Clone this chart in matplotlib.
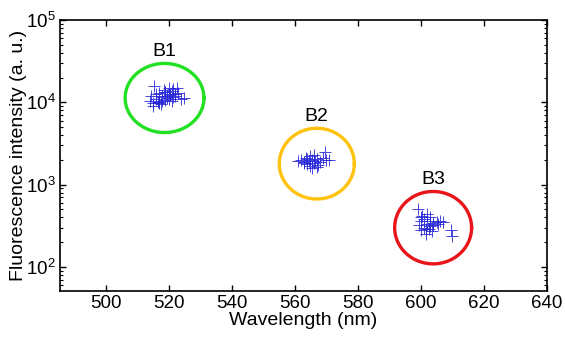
import numpy as np
import matplotlib
matplotlib.use("Agg")
import matplotlib.pyplot as plt
from matplotlib.ticker import LogLocator

plt.rcParams['font.family'] = ['Liberation Sans', 'DejaVu Sans']
plt.rcParams['mathtext.default'] = 'regular'

# cluster B1
b1_x = [514, 515, 515.5, 516, 516, 517, 517, 517.5, 518, 518, 518.5, 519, 519, 519.5,
        520, 520, 520.5, 521, 521, 521.5, 522, 522, 523, 515, 516.5, 518, 519.5, 520.5,
        521.5, 524, 525, 514.5, 517, 519, 522.5]
b1_y = [10500, 9800, 16000, 11000, 12500, 10200, 13000, 9500, 11500, 12000, 14000, 10800,
        13500, 12000, 15000, 11000, 12800, 13800, 10500, 14500, 12500, 11800, 13000, 9000,
        10000, 10500, 11200, 12200, 11600, 11000, 11200, 12000, 9800, 13200, 14800]

# cluster B2
b2_x = [561, 562, 563, 563.5, 564, 564, 564.5, 565, 565, 565.5, 566, 566, 566.5, 567,
        567, 568, 569, 569.5, 570, 571, 563, 565.5, 567.5]
b2_y = [1950, 2000, 1900, 2100, 1800, 2050, 1950, 1700, 2200, 2000, 1850, 2300, 1950,
        1650, 2050, 1900, 2100, 2500, 2000, 2000, 1850, 1600, 1750]

# cluster B3
b3_x = [599, 599.5, 600, 600, 600.5, 601, 601, 601.5, 602, 602, 602.5, 603, 603, 603.5,
        604, 604, 605, 605.5, 606, 607, 609.5, 610, 600, 601.5, 603]
b3_y = [500, 320, 280, 360, 420, 300, 380, 250, 330, 440, 290, 360, 400, 270, 340, 320,
        350, 330, 360, 350, 280, 240, 400, 290, 310]

# ellipse centers / sizes (x in nm, y half-height in decades)
labels = ['B1', 'B2', 'B3']
centers_x = [518.7, 567.0, 603.9]
centers_y = [11300, 1800, 300]
half_w = [12.5, 11.9, 12.2]
half_h = [0.42, 0.43, 0.44]
ring_colors = ['#22e022', '#ffc20e', '#e8151b']

fig = plt.figure(figsize=(5.65, 3.37), dpi=100)
ax = fig.add_axes([0.106, 0.1365, 0.862, 0.804])

for xs, ys in [(b1_x, b1_y), (b2_x, b2_y), (b3_x, b3_y)]:
    ax.plot(xs, ys, '+', color='#2424d8', ms=8, mew=0.7, alpha=0.85)

t = np.linspace(0, 2 * np.pi, 200)
for lab, cx, cy, a, b, c in zip(labels, centers_x, centers_y, half_w, half_h, ring_colors):
    ex = cx + a * np.cos(t)
    ey = 10 ** (np.log10(cy) + b * np.sin(t))
    ax.plot(ex, ey, color=c, lw=2.4)
    ax.text(cx, 10 ** (np.log10(cy) + b + 0.04), lab, ha='center', va='bottom', fontsize=14)

ax.set_yscale('log')
ax.set_xlim(485.5, 640)
ax.set_ylim(51, 1e5)
ax.set_xticks(np.arange(500, 641, 20))
ax.yaxis.set_major_locator(LogLocator(base=10, numticks=10))
ax.yaxis.set_minor_locator(LogLocator(base=10, subs=np.arange(2, 10), numticks=10))
ax.tick_params(which='both', direction='in', top=True, right=True, labelsize=13.5)
ax.tick_params(which='major', length=4, width=1, pad=3)
ax.tick_params(which='minor', length=2, width=0.8)
ax.tick_params(axis='x', which='minor', bottom=False, top=False)
for s in ax.spines.values():
    s.set_linewidth(1.2)

ax.set_xlabel('Wavelength (nm)', fontsize=14)
ax.set_ylabel('Fluorescence intensity (a. u.)', fontsize=14)
ax.xaxis.set_label_coords(0.5, -0.078)
ax.yaxis.set_label_coords(-0.068, 0.5)

fig.savefig('out.png', dpi=100)
